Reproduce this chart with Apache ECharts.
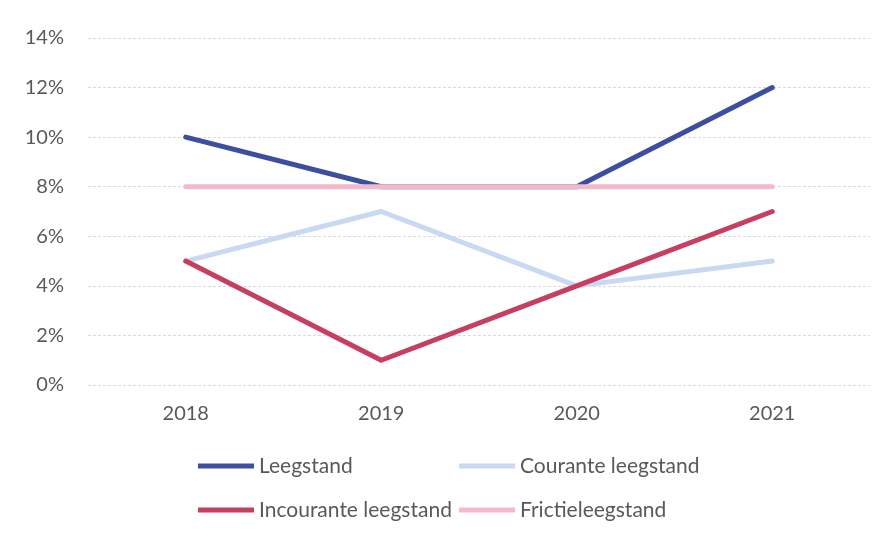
<!DOCTYPE html>
<html>
<head>
<meta charset="utf-8">
<script src="https://cdn.jsdelivr.net/npm/echarts@6/dist/echarts.min.js"></script>
<style>html,body{margin:0;padding:0;background:#fff}#c{width:892px;height:538px}</style>
</head>
<body>
<div id="c"></div>
<script>
const categories = ['2018', '2019', '2020', '2021'];
const leegstand = [10, 8, 8, 12];
const courante = [5, 7, 4, 5];
const incourante = [5, 1, 4, 7];
const frictie = [8, 8, 8, 8];
const seriesNames = ['Leegstand', 'Courante leegstand', 'Incourante leegstand', 'Frictieleegstand'];
const colors = ['#3B4E9F', '#C9D8F3', '#C63F60', '#F3B9CA'];

const chart = echarts.init(document.getElementById('c'));
const font = 'Lato, "Open Sans", sans-serif';
function mk(name, data, color) {
  return {
    name: name, type: 'line', data: data, symbol: 'none',
    lineStyle: { color: color, width: 5, cap: 'round', join: 'round' },
    itemStyle: { color: color }
  };
}
const legendCommon = {
  orient: 'vertical', itemWidth: 56, itemHeight: 5, itemGap: 22, icon: 'rect',
  textStyle: { color: '#595959', fontSize: 21, fontFamily: font, lineHeight: 22 }
};
chart.setOption({
  animation: false,
  backgroundColor: '#fff',
  textStyle: { fontFamily: font },
  grid: { left: 88, right: 22, top: 38, bottom: 153 },
  legend: [
    Object.assign({ left: 193, top: 450, data: [seriesNames[0], seriesNames[2]] }, legendCommon),
    Object.assign({ left: 454, top: 450, data: [seriesNames[1], seriesNames[3]] }, legendCommon)
  ],
  xAxis: {
    type: 'category', data: categories, boundaryGap: true,
    axisLine: { show: false }, axisTick: { show: false },
    axisLabel: { color: '#595959', fontSize: 20, margin: 19, fontFamily: font }
  },
  yAxis: {
    type: 'value', min: 0, max: 14, interval: 2,
    axisLine: { show: false }, axisTick: { show: false },
    axisLabel: { color: '#595959', fontSize: 20, margin: 24, formatter: '{value}%', fontFamily: font },
    splitLine: { lineStyle: { color: '#DADADA', type: [3, 2], width: 1 } }
  },
  series: [
    mk(seriesNames[0], leegstand, colors[0]),
    mk(seriesNames[1], courante, colors[1]),
    mk(seriesNames[2], incourante, colors[2]),
    mk(seriesNames[3], frictie, colors[3])
  ]
});
</script>
</body>
</html>
